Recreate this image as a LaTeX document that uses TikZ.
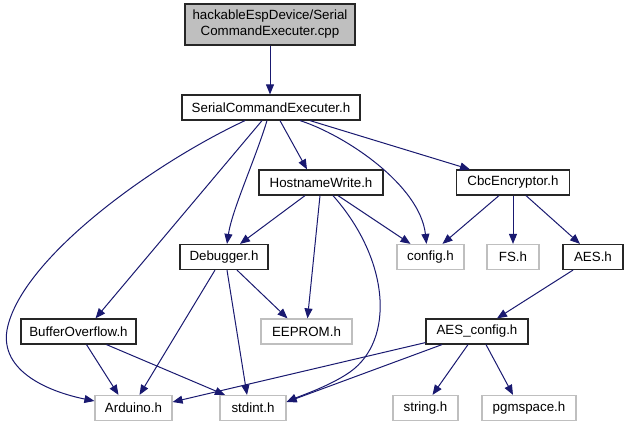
\documentclass[tikz,border=0pt]{standalone}
\usepackage{fontspec}
\setmainfont{Liberation Sans}
\usetikzlibrary{arrows.meta,calc}
\definecolor{edgeblue}{HTML}{191970}
\definecolor{extgray}{HTML}{BFBFBF}

\begin{document}
\begin{tikzpicture}[x=0.75pt, y=-0.75pt, font=\fontsize{10}{12}\selectfont,
    incnode/.style={draw=black!85, line width=0.9pt, fill=white, inner sep=0pt, minimum height=18.75pt},
    extnode/.style={incnode, draw=extgray},
    rootnode/.style={incnode, fill=extgray, align=center, minimum height=30.75pt},
    boxw/.style={minimum width=#1*0.75pt},
    edge/.style={draw=edgeblue, line width=0.75pt, -{Triangle[length=7.5pt,width=6pt]}}]
  \useasboundingbox (0,0) rectangle (629,425);
  % files
  \node[rootnode, boxw=170] (root) at (270,24.5) {hackableEspDevice/Serial\\CommandExecuter.cpp};
  \node[incnode, boxw=178] (sce) at (271,107.5) {SerialCommandExecuter.h};
  \node[incnode, boxw=124] (hw) at (321,182.5) {HostnameWrite.h};
  \node[incnode, boxw=113] (cbc) at (513,182.5) {CbcEncryptor.h};
  \node[incnode, boxw=88] (dbg) at (224,257) {Debugger.h};
  \node[extnode, boxw=67] (cfg) at (430.5,257) {config.h};
  \node[extnode, boxw=52] (fs) at (513,257) {FS.h};
  \node[incnode, boxw=60] (aes) at (593,257) {AES.h};
  \node[incnode, boxw=115] (bo) at (78.5,331.5) {BufferOverflow.h};
  \node[extnode, boxw=91] (eeprom) at (306.5,331.5) {EEPROM.h};
  \node[incnode, boxw=102] (aescfg) at (477,331.5) {AES\_config.h};
  \node[extnode, boxw=77] (ard) at (133.5,408) {Arduino.h};
  \node[extnode, boxw=66] (stdint) at (253,408) {stdint.h};
  \node[extnode, boxw=65] (str) at (425.5,408) {string.h};
  \node[extnode, boxw=94] (pgm) at (529,408) {pgmspace.h};
  % includes
  \draw[edge] (root.south) -- (root.south |- sce.north);
  \draw[edge] ($(sce.south)+(-26,0)$) .. controls (150,165) and (20,260) .. (7,330)
    .. controls (0,372) and (50,392) .. ($(ard.west)+(0,-7)$);
  \draw[edge] ($(sce.south)+(-9,0)$) -- ($(bo.north)+(17,0)$);
  \draw[edge] ($(sce.south)+(-4,0)$) .. controls (255,160) and (232,210) .. ($(dbg.north)+(3,0)$);
  \draw[edge] ($(sce.south)+(9,0)$) -- ($(hw.north)+(-14,0)$);
  \draw[edge] ($(sce.south)+(29,0)$) .. controls (345,135) and (420,185) .. ($(cfg.north)+(-4,0)$);
  \draw[edge] ($(sce.south)+(39,0)$) -- ($(cbc.north)+(-43,0)$);
  \draw[edge] ($(hw.south)+(-16,0)$) -- ($(dbg.north)+(16,0)$);
  \draw[edge] ($(hw.south)+(-1,0)$) -- ($(eeprom.north)+(1,0)$);
  \draw[edge] ($(hw.south)+(12,0)$) .. controls (390,260) and (395,340) .. (350,372)
    .. controls (330,386) and (300,396) .. ($(stdint.east)+(0,-6)$);
  \draw[edge] ($(hw.south)+(17,0)$) -- ($(cfg.north)+(-20,0)$);
  \draw[edge] ($(dbg.south)+(-9,0)$) -- ($(ard.north)+(6,0)$);
  \draw[edge] ($(dbg.south)+(3,0)$) -- ($(stdint.north)+(-6,0)$);
  \draw[edge] ($(dbg.south)+(13,0)$) -- ($(eeprom.north)+(-19,0)$);
  \draw[edge] ($(bo.south)+(8,0)$) -- ($(ard.north)+(-15,0)$);
  \draw[edge] ($(bo.south)+(28,0)$) -- ($(stdint.north)+(-28,0)$);
  \draw[edge] ($(cbc.south)+(-14,0)$) -- ($(cfg.north)+(12,0)$);
  \draw[edge] (cbc.south) -- (fs.north);
  \draw[edge] ($(cbc.south)+(13,0)$) -- ($(aes.north)+(-13,0)$);
  \draw[edge] ($(aes.south)+(-20,0)$) -- ($(aescfg.north)+(20,0)$);
  \draw[edge] ($(aescfg.south west)+(0,-2)$) -- ($(ard.east)+(0,-6)$);
  \draw[edge] ($(aescfg.south)+(-35,0)$) -- ($(stdint.east)+(0,-6)$);
  \draw[edge] ($(aescfg.south)+(-9,0)$) -- ($(str.north)+(7,0)$);
  \draw[edge] ($(aescfg.south)+(9,0)$) -- ($(pgm.north)+(-16,0)$);
\end{tikzpicture}
\end{document}
